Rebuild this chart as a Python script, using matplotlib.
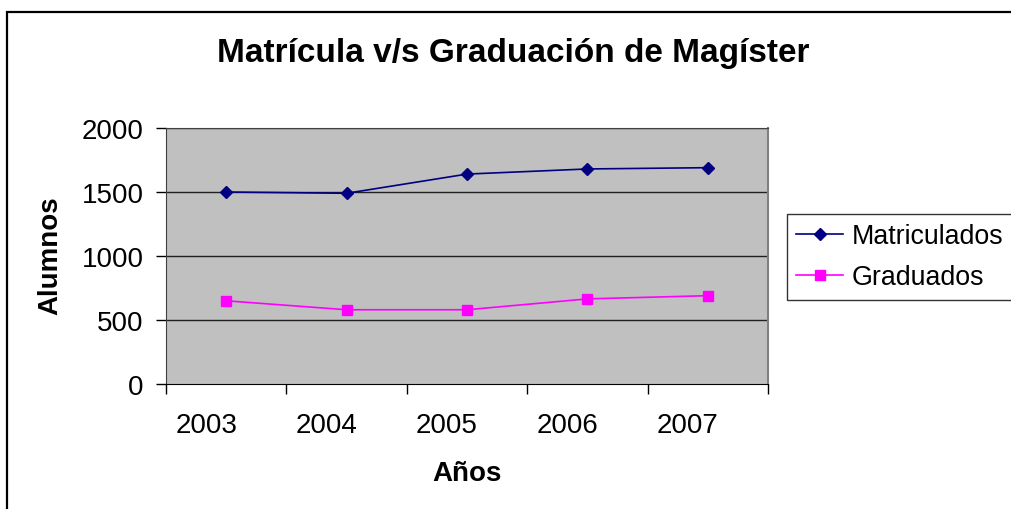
import matplotlib
matplotlib.use("Agg")
import matplotlib.pyplot as plt
from matplotlib.patches import Rectangle
from matplotlib.transforms import ScaledTranslation

years = ["2003", "2004", "2005", "2006", "2007"]
matriculados = [1500, 1490, 1640, 1680, 1690]
graduados = [650, 580, 580, 665, 690]
yticks = [0, 500, 1000, 1500, 2000]

plt.rcParams['font.family'] = ['Liberation Sans', 'DejaVu Sans']

W, H = 1011, 510
FS = 20
fig = plt.figure(figsize=(W / 100, H / 100), dpi=100)
fig.patch.set_facecolor('white')

# outer chart border
fig.patches.append(Rectangle((7 / W, -0.1), 1.2, (H - 13) / H + 0.1,
                             transform=fig.transFigure, fill=False,
                             edgecolor='black', linewidth=1.6))

ax = fig.add_axes([166 / W, (H - 385) / H, 602 / W, 256 / H])
ax.set_facecolor('#C0C0C0')
x = list(range(len(years)))
ax.plot(x, matriculados, color='#000080', marker='D', markersize=6,
        linewidth=1.2, label='Matriculados')
ax.plot(x, graduados, color='#FF00FF', marker='s', markersize=7,
        linewidth=1.2, label='Graduados')

ax.set_xlim(-0.5, len(years) - 0.5)
ax.set_ylim(0, 2000)
ax.set_yticks(yticks)
ax.set_yticklabels([str(v) for v in yticks], fontsize=FS)
ax.set_xticks(x)
ax.set_xticklabels(years, fontsize=FS)
ax.set_xticks([i - 0.5 for i in range(len(years) + 1)], minor=True)
ax.tick_params(axis='x', which='major', length=0, pad=20.5)
ax.tick_params(axis='x', which='minor', length=7, width=1, direction='out', color='black')
ax.tick_params(axis='y', length=7, width=1, direction='out', pad=9)
shift = ScaledTranslation(-20 / 100, 0, fig.dpi_scale_trans)
for lab in ax.get_xticklabels():
    lab.set_transform(lab.get_transform() + shift)

for v in yticks[1:]:
    ax.axhline(v, color='#202020', linewidth=1, zorder=1)

ax.spines['left'].set_color('#404040')
ax.spines['bottom'].set_color('black')
ax.spines['top'].set_color('#404040')
ax.spines['right'].set_color('#808080')
ax.spines['right'].set_linewidth(1.5)

fig.text(50 / W, 1 - 256 / H, 'Alumnos', rotation=90, ha='center', va='center',
         fontsize=FS, fontweight='bold')
fig.text(467 / W, 1 - 481 / H, 'Años', ha='center', va='baseline',
         fontsize=FS, fontweight='bold')

fig.text(513 / W, 1 - 62 / H, 'Matrícula v/s Graduación de Magíster',
         ha='center', va='baseline', fontsize=24, fontweight='bold')

leg = fig.legend(loc='upper left', bbox_to_anchor=(787 / W, 1 - 215 / H),
                 prop={'size': 19.3}, frameon=True, fancybox=False,
                 handlelength=1.75, borderpad=0.35, labelspacing=0.55,
                 handletextpad=0.3, borderaxespad=0)
leg.get_frame().set_edgecolor('black')
leg.get_frame().set_linewidth(1)

fig.savefig('out.png', dpi=100)
